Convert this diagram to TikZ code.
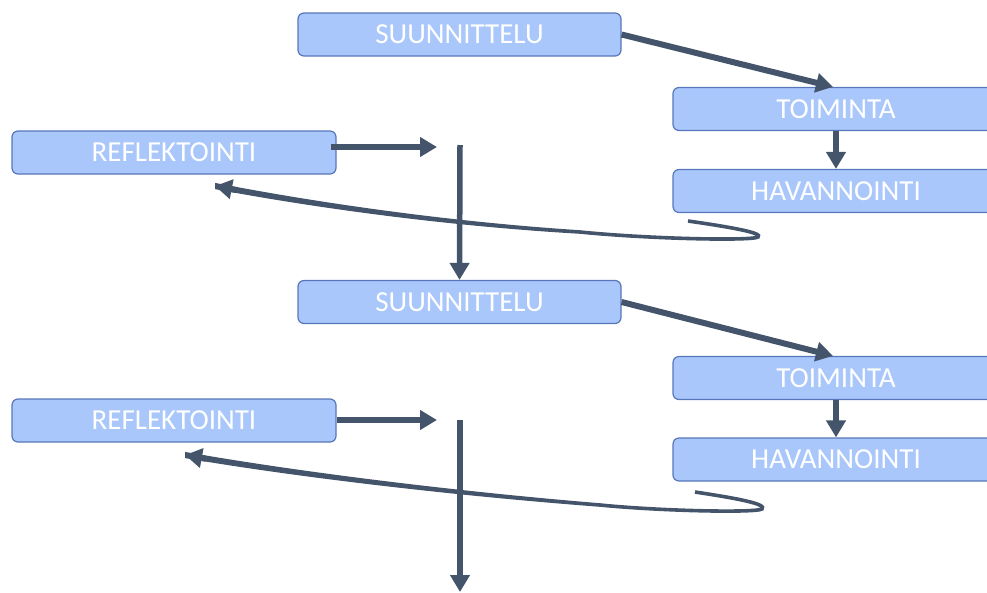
\documentclass[tikz,border=0pt]{standalone}
\usepackage{fontspec}
\setmainfont{Carlito}
\usetikzlibrary{arrows.meta,calc}
\definecolor{boxfill}{RGB}{169,199,250}
\definecolor{boxline}{RGB}{88,118,186}
\definecolor{arr}{RGB}{68,84,106}
\begin{document}
\begin{tikzpicture}[x=1pt,y=-1pt,
  stagebox/.style={draw=boxline, line width=1.2pt, fill=boxfill, rounded corners=6pt,
    minimum height=43pt, inner sep=0pt, text=white, font=\fontsize{29}{31}\selectfont},
  wide/.style={minimum width=323pt},
  conn/.style={draw=arr, line width=6pt, -{Triangle[length=17pt,width=19pt]}},
  loopline/.style={draw=arr, line width=3.6pt},
  looptaper/.style={fill=arr},
  loophead/.style={draw=arr, line width=6pt, -{Triangle[length=17pt,width=19pt]}}]
\useasboundingbox (0,0) rectangle (987,592);
\begin{scope}
\clip (0,0) rectangle (987,592);
% first cycle
\node[stagebox, wide] (s1) at (459.5,34.5) {SUUNNITTELU};
\node[stagebox, minimum width=326pt] (t1) at (836,109) {TOIMINTA};
\node[stagebox, minimum width=326pt] (h1) at (836,191) {HAVANNOINTI};
\node[stagebox, minimum width=324pt] (r1) at (174,152.5) {REFLEKTOINTI};
% second cycle
\node[stagebox, wide] (s2) at (459.5,302) {SUUNNITTELU};
\node[stagebox, minimum width=326pt] (t2) at (836,378) {TOIMINTA};
\node[stagebox, minimum width=326pt] (h2) at (836,459.5) {HAVANNOINTI};
\node[stagebox, minimum width=324pt] (r2) at (174,420.5) {REFLEKTOINTI};
\end{scope}
% free ends
\coordinate (r1end) at (437,147);
\coordinate (v1top) at (460,145);
\coordinate (r2end) at (437,420);
\coordinate (v2top) at (460,420);
\coordinate (v2end) at (460,592);
\coordinate (c1start) at (688,221);
\coordinate (c1mid) at (580,232);
\coordinate (c1near) at (236,190);
\coordinate (c1end) at (215,186);
\coordinate (c2start) at (695,492);
\coordinate (c2mid) at (600,505);
\coordinate (c2near) at (206,458.8);
\coordinate (c2end) at (185,455);
% connectors
\draw[conn] (s1.east) -- ($(t1.north)+(-3,0)$);
\draw[conn] (t1.south) -- (h1.north);
\draw[conn] ([xshift=-6pt]r1.east |- r1end) -- (r1end);
\draw[conn, line width=5.5pt] (v1top) -- (s2.north);
% first loop: thin hook, tapering body, arrow head
\draw[loopline] (c1start) .. controls (730,227) and (764,233) .. (758,237)
  .. controls (752,241) and (650,239) .. (c1mid);
\fill[looptaper] ($(c1mid)+(0,-1.8)$) .. controls (450,221.8) and (320,203.2) .. ($(c1end)+(0,-3.1)$)
  -- ($(c1end)+(0,3.1)$) .. controls (320,208.8) and (450,226.2) .. ($(c1mid)+(0,1.8)$) -- cycle;
\draw[loophead] (c1near) -- (c1end);
\draw[conn] (s2.east) -- ($(t2.north)+(-3,0)$);
\draw[conn] (t2.south) -- (h2.north);
\draw[conn] (r2.east |- r2end) -- (r2end);
\draw[conn, line width=5.5pt] (v2top) -- (v2end);
% second loop
\draw[loopline] (c2start) .. controls (735,498) and (768,504) .. (762,509)
  .. controls (755,513) and (660,511) .. (c2mid);
\fill[looptaper] ($(c2mid)+(0,-1.8)$) .. controls (460,491.8) and (300,472.2) .. ($(c2end)+(0,-3.1)$)
  -- ($(c2end)+(0,3.1)$) .. controls (300,477.8) and (460,496.2) .. ($(c2mid)+(0,1.8)$) -- cycle;
\draw[loophead] (c2near) -- (c2end);
\end{tikzpicture}
\end{document}
